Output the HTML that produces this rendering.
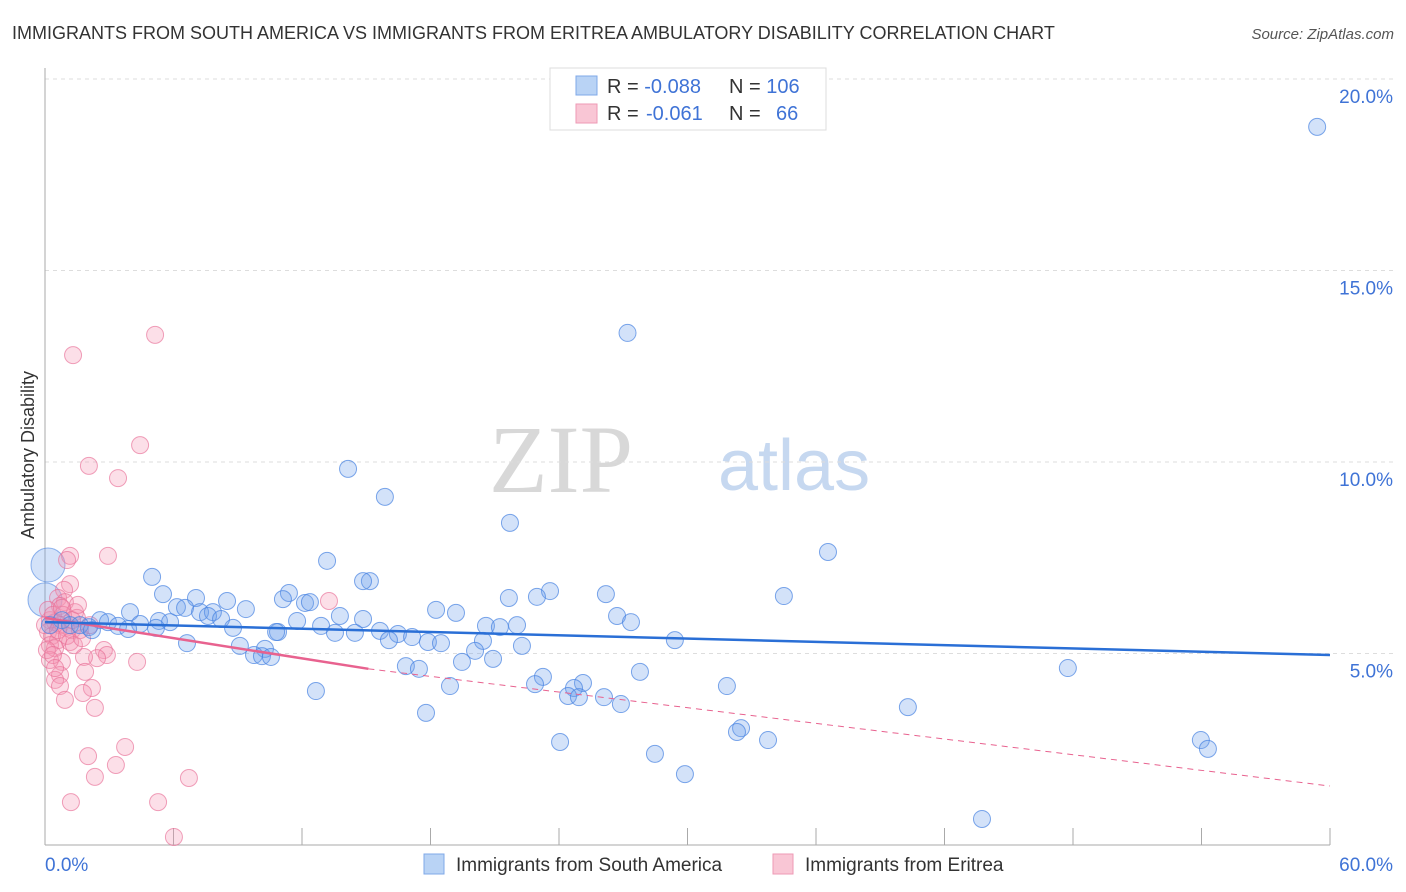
<!DOCTYPE html>
<html><head><meta charset="utf-8"><style>
body{margin:0;background:#fff;font-family:"Liberation Sans",sans-serif}
svg{display:block}
</style></head><body>
<svg id="chart" width="1406" height="892" xmlns="http://www.w3.org/2000/svg">
<text x="12" y="39" font-size="18" fill="#333">IMMIGRANTS FROM SOUTH AMERICA VS IMMIGRANTS FROM ERITREA AMBULATORY DISABILITY CORRELATION CHART</text>
<text x="1394" y="39" font-size="15" fill="#555" font-style="italic" text-anchor="end">Source: ZipAtlas.com</text>
<g>
<text x="633" y="492" font-size="96" font-family="Liberation Serif,serif" fill="#d8d8d8" text-anchor="end">ZIP</text>
<text x="718" y="490" font-size="72" fill="#c6d8f0">atlas</text>
</g>
<g id="grid"></g>
<g id="axes"></g>
<text transform="translate(34,455) rotate(-90)" font-size="18" fill="#333" text-anchor="middle">Ambulatory Disability</text>
<g id="pts"></g>
<g id="trends"></g>
<g>
<rect x="550" y="68" width="276" height="62" fill="#fff" stroke="#ddd"/>
<rect x="576" y="76" width="21" height="19" fill="#b9d3f5" stroke="#7fa8e8"/>
<rect x="576" y="104" width="21" height="19" fill="#f9c6d5" stroke="#ee9ab5"/>
<text x="607" y="93" font-size="20" fill="#333">R = <tspan fill="#3f73d6">-0.088</tspan><tspan x="729">N = </tspan><tspan fill="#3f73d6">106</tspan></text>
<text x="607" y="120" font-size="20" fill="#333">R = <tspan x="646" fill="#3f73d6">-0.061</tspan><tspan x="729">N = </tspan><tspan x="776" fill="#3f73d6">66</tspan></text>
</g>
<g>
<rect x="424" y="854" width="20" height="20" fill="#b9d3f5" stroke="#7fa8e8"/>
<text x="456" y="871" font-size="19" fill="#333">Immigrants from South America</text>
<rect x="773" y="854" width="20" height="20" fill="#f9c6d5" stroke="#ee9ab5"/>
<text x="805" y="871" font-size="19" fill="#333">Immigrants from Eritrea</text>
</g>
</svg>
<script>
const yTicks=[5,10,15,20];
const yTickLabels=["5.0%","10.0%","15.0%","20.0%"];
const xTickVals=[0,6,12,18,24,30,36,42,48,54,60];
const xEndLabels=["0.0%","60.0%"];
const blueX=[59.4,27.2,14.15,15.87,21.71,36.56,13.17,5.0,15.17,14.85,23.58,5.51,11.39,21.66,22.97,26.19,34.5,7.05,8.5,11.11,12.14,12.37,3.97,6.16,6.54,7.24,7.84,9.38,18.26,19.19,26.71,7.61,8.22,11.77,13.77,14.85,27.36,2.57,2.94,4.44,5.32,5.84,2.05,3.41,3.88,5.18,8.78,10.88,12.89,13.54,14.47,15.64,16.48,17.14,20.59,22.04,21.24,10.79,16.06,17.88,18.49,20.45,22.27,29.41,6.63,9.1,10.27,9.76,10.13,10.55,20.08,20.92,19.47,16.85,17.46,27.78,47.76,23.25,22.88,25.12,24.7,24.42,26.1,24.93,26.89,31.84,18.91,12.65,17.79,40.29,32.5,32.31,33.76,24.05,28.48,29.88,53.97,54.3,43.75,0.79,1.17,1.63,2.19,0.23];
const blueY=[18.75,13.37,9.82,9.09,8.41,7.65,7.42,7.0,6.89,6.89,6.63,6.55,6.58,6.45,6.48,6.55,6.5,6.45,6.37,6.42,6.32,6.34,6.08,6.21,6.19,6.08,6.08,6.16,6.14,6.06,5.98,5.98,5.9,5.85,5.98,5.9,5.82,5.87,5.82,5.77,5.85,5.82,5.69,5.72,5.64,5.67,5.67,5.56,5.72,5.54,5.54,5.59,5.51,5.43,5.72,5.74,5.69,5.56,5.35,5.3,5.27,5.33,5.2,5.35,5.27,5.2,5.12,4.96,4.93,4.91,5.07,4.86,4.78,4.67,4.6,4.52,4.62,4.39,4.2,4.23,4.1,3.89,3.86,3.86,3.68,4.15,4.15,4.02,3.45,3.6,3.05,2.95,2.74,2.69,2.38,1.85,2.74,2.51,0.68,5.87,5.74,5.74,5.61,5.74];
const blueLargeX=[0.14,0];
const blueLargeY=[7.31,6.4];
const pinkX=[5.14,1.31,4.44,2.05,3.41,2.94,1.17,1.03,1.17,0.89,0.61,0.93,0.7,13.26,1.4,1.49,0.23,0.47,0.7,0.98,1.26,0.14,0.33,0.61,1.17,1.63,0.23,0.47,2.75,2.89,2.43,1.82,0.79,4.3,0.23,0.7,1.87,0.47,0.7,2.19,1.77,0.93,2.33,3.74,2.01,3.31,2.33,6.72,1.21,5.28,6.02,0.14,0.37,0,0.09,0.37,0.61,0.84,1.26,1.54,1.03,0.47,1.35,1.73,0.79,2.1];
const pinkY=[13.32,12.79,10.44,9.9,9.58,7.55,7.55,7.44,6.81,6.66,6.45,6.34,6.24,6.37,6.08,5.93,5.87,5.82,5.74,5.67,5.61,5.56,5.46,5.35,5.3,5.61,5.22,5.14,5.09,4.96,4.88,4.91,4.78,4.78,4.83,4.44,4.52,4.31,4.15,4.1,3.97,3.79,3.58,2.56,2.32,2.09,1.78,1.75,1.12,1.12,0.21,6.14,6.01,5.74,5.09,4.96,5.61,6.01,5.87,6.27,5.46,4.62,5.22,5.4,6.19,5.74];
const blueTrend=[[0,5.82],[60,4.96]];
const pinkTrendSolid=[[0,5.93],[15.1,4.6]];
const pinkTrendDash=[[15.1,4.6],[60,1.54]];

const NS="http://www.w3.org/2000/svg";
const X=v=>45+v/60*1285;
const Y=v=>845-v*38.3;
function mk(tag,attrs,parent){const e=document.createElementNS(NS,tag);for(const k in attrs)e.setAttribute(k,attrs[k]);parent.appendChild(e);return e;}
const grid=document.getElementById('grid'),axes=document.getElementById('axes'),pts=document.getElementById('pts'),tr=document.getElementById('trends');
yTicks.forEach((t,i)=>{
 const l=mk('line',{x1:45,x2:1394,y1:Y(t),y2:Y(t),stroke:'#ddd','stroke-dasharray':'4,4'},grid);
 
 
 const tx=mk('text',{x:1393,y:Y(t)+24,'font-size':19,fill:'#3f73d6','text-anchor':'end'},axes);
 tx.textContent=yTickLabels[i];
 
 
});
const ay=mk('line',{x1:45,x2:45,y1:68,y2:845,stroke:'#aaa'},axes);


const ax=mk('line',{x1:45,x2:1330,y1:845,y2:845,stroke:'#aaa'},axes);


xTickVals.slice(1).forEach(t=>{
 const tk=mk('line',{x1:X(t),x2:X(t),y1:828,y2:845,stroke:'#aaa'},axes);
 
 
});
const xl0=mk('text',{x:45,y:871,'font-size':19,fill:'#3f73d6'},axes);
xl0.textContent=xEndLabels[0];


const xl1=mk('text',{x:1393,y:871,'font-size':19,fill:'#3f73d6','text-anchor':'end'},axes);
xl1.textContent=xEndLabels[1];



function dots(xs,ys,r,fill,stroke,name){
 xs.forEach((v,i)=>{
  const c=mk('circle',{cx:X(v),cy:Y(ys[i]),r:r,fill:fill,stroke:stroke,'stroke-width':1},pts);
  
  
 });
}
dots(blueLargeX,blueLargeY,17,'rgba(110,160,235,0.3)','rgba(70,130,225,0.6)','point-south-america-large');
dots(pinkX,pinkY,8.5,'rgba(245,150,180,0.3)','rgba(232,110,150,0.65)','point-eritrea');
dots(blueX,blueY,8.5,'rgba(110,160,235,0.3)','rgba(70,130,225,0.7)','point-south-america');

function line(p,stroke,w,dash,name){
 const a={x1:X(p[0][0]),y1:Y(p[0][1]),x2:X(p[1][0]),y2:Y(p[1][1]),stroke:stroke,'stroke-width':w};
 if(dash)a['stroke-dasharray']=dash;
 const l=mk('line',a,tr);
 
 
}
line(pinkTrendDash,'#e8628f',1,'6,5','trend-eritrea-extrapolated');
line(pinkTrendSolid,'#e8628f',2.5,null,'trend-eritrea');
line(blueTrend,'#2a6fd6',2.5,null,'trend-south-america');
</script>
</body></html>
